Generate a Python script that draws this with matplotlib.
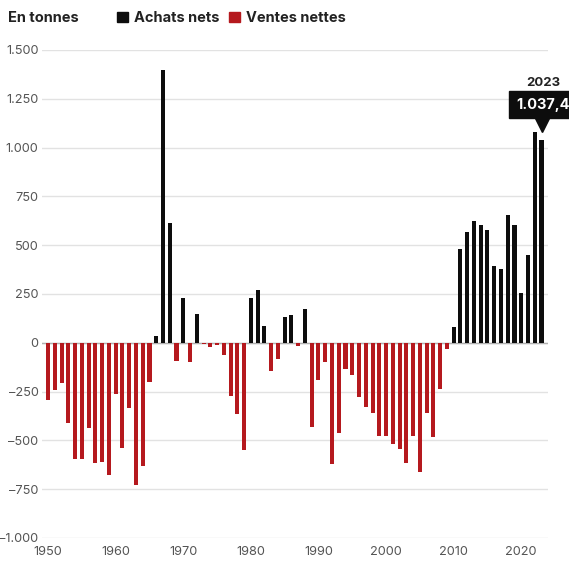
import matplotlib
matplotlib.use("Agg")
import matplotlib.pyplot as plt
import matplotlib.transforms as mtransforms
from matplotlib.patches import Patch

plt.rcParams["font.family"] = ["Inter", "DejaVu Sans"]

# Net central bank gold purchases / sales, tonnes
years = list(range(1950, 2024))
values = [
    -294, -240, -207, -410, -597, -597, -439, -616, -609, -675,   # 1950s
    -264, -541, -332, -728, -631, -201, 33, 1398, 613, -92,       # 1960s
    232, -98, 149, -6, -24, -12, -62, -270, -364, -547,           # 1970s
    229, 272, 84, -145, -82, 132, 144, -17, 174, -430,            # 1980s
    -192, -100, -622, -464, -133, -167, -277, -328, -362, -478,   # 1990s
    -478, -520, -544, -617, -476, -663, -359, -485, -235, -34,    # 2000s
    79, 481, 569, 625, 601, 580, 395, 379, 656, 605,              # 2010s
    255, 450, 1082, 1037.4,                                       # 2020s
]
yticks = [-1000, -750, -500, -250, 0, 250, 500, 750, 1000, 1250, 1500]
xticks = [1950, 1960, 1970, 1980, 1990, 2000, 2010, 2020]

BLACK = "#0d0d0d"
RED = "#b5191e"
GREY = "#555555"

fig = plt.figure(figsize=(5.69, 5.63), dpi=100)
ax = fig.add_axes([42 / 569, 25 / 563, 506 / 569, 488 / 563])

colors = [BLACK if v >= 0 else RED for v in values]
ax.bar(years, values, width=0.6, color=colors, zorder=3)

ax.set_xlim(1949.1, 2023.96)
ax.set_ylim(-1000, 1500)
ax.set_yticks(yticks)
ax.set_yticklabels([f"{v:,.0f}".replace(",", ".").replace("-", "\u2013") for v in yticks])
ax.set_xticks(xticks)
ax.tick_params(axis="both", length=0, labelsize=9.2, colors=GREY)
ax.tick_params(axis="y", pad=2.5)
ax.tick_params(axis="x", pad=6)

ax.grid(axis="y", color="#e2e2e2", linewidth=1, zorder=0)
ax.axhline(0, color="#b0b0b0", linewidth=1, zorder=2)
for s in ax.spines.values():
    s.set_visible(False)

# header / legend
fig.text(8 / 569, 1 - 18 / 563, "En tonnes", fontsize=10.5, fontweight="bold",
         color="#222222", va="center", ha="left")
handles = [Patch(color=BLACK), Patch(color=RED)]
leg = fig.legend(handles, ["Achats nets", "Ventes nettes"], loc="center left",
                 bbox_to_anchor=(117 / 569, 1 - 18 / 563), ncol=2, frameon=False,
                 handlelength=0.75, handleheight=0.75, handletextpad=0.4,
                 columnspacing=0.7, borderaxespad=0, borderpad=0,
                 prop={"size": 10.5, "weight": "bold"})
for t in leg.get_texts():
    t.set_color("#222222")

# callout on the last year
last_x, last_y = years[-1], values[-1]
tri = mtransforms.offset_copy(ax.transData, fig=fig, x=0, y=12, units="points")
ax.plot([last_x], [last_y], marker="v", markersize=11, color=BLACK,
        transform=tri, clip_on=False, zorder=5)
ax.annotate(f"{last_y:,.1f}".replace(",", " ").replace(".", ",").replace(" ", "."),
            xy=(last_x, last_y), xytext=(-18.5, 25.5), textcoords="offset points",
            ha="left", va="center", fontsize=10.5, fontweight="bold", color="white",
            bbox=dict(boxstyle="square,pad=0.45", fc=BLACK, ec=BLACK),
            annotation_clip=False, zorder=6)
ax.annotate(str(last_x), xy=(last_x, last_y), xytext=(1, 41), textcoords="offset points",
            ha="center", va="center", fontsize=9.5, fontweight="bold", color="#222222",
            annotation_clip=False)

fig.savefig("out.png", dpi=100)
